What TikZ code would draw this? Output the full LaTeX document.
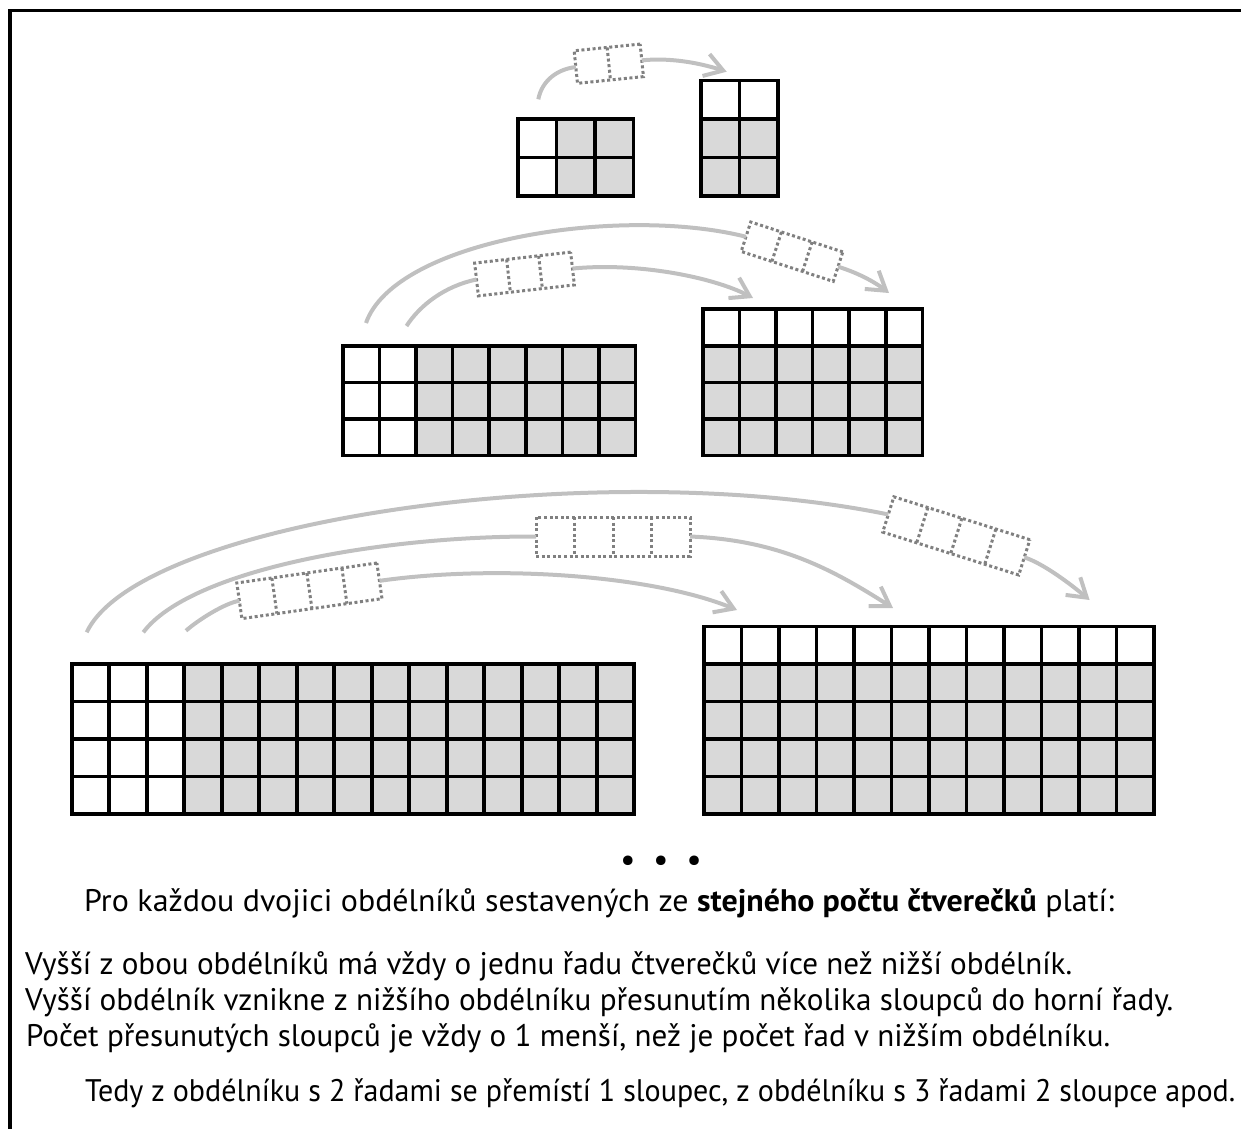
\documentclass[tikz,border=0pt]{standalone}
\usepackage{graphicx}
\usepackage{fontspec}
\setmainfont{PT Sans}
\usetikzlibrary{arrows.meta,calc}
\definecolor{cellgray}{HTML}{D9D9D9}
\definecolor{arrgray}{HTML}{C0C0C0}
\definecolor{boxgray}{HTML}{808080}
\newlength{\reftextw}
\AtBeginDocument{%
  \settowidth{\reftextw}{\fontsize{10pt}{12pt}\selectfont Vyšší obdélník vznikne z nižšího obdélníku přesunutím několika sloupců do horní řady.}%
  \pgfmathsetmacro{\fsz}{10*1148/\reftextw}%
}
% #1 x0, #2 y0, #3 cols, #4 rows, #5 cell, #6 white cols, #7 white rows
\newcommand{\cellgrid}[7]{%
  \fill[cellgray] (#1,#2) rectangle ++(#3*#5,#4*#5);
  \fill[white] (#1,#2) rectangle ++(#6*#5,#7*#5);
  \foreach \gi in {0,...,#3} \draw[gridline] (#1+\gi*#5,#2) -- ++(0,#4*#5);
  \foreach \gj in {0,...,#4} \draw[gridline] (#1,#2+\gj*#5) -- ++(#3*#5,0);
  \draw[gridline] (#1,#2) rectangle ++(#3*#5,#4*#5);
}
\newcommand{\boxdividers}[2]{% #1 node name, #2 number of cells
  \foreach \k in {1,...,\numexpr#2-1\relax}
    \draw[boxdiv] ($(#1.north west)!\k/#2!(#1.north east)$) -- ($(#1.south west)!\k/#2!(#1.south east)$);
}
\newcommand{\fitline}[2]{\resizebox{#1pt}{\height}{#2}}
\begin{document}
\begin{tikzpicture}[x=1pt,y=-1pt,
  gridline/.style={line width=3.6pt, black, line cap=rect},
  frameline/.style={line width=3.5pt, black},
  moveline/.style={arrgray, line width=4pt},
  movearrow/.style={moveline, -{Straight Barb[length=18pt,width=23pt]}},
  colbox/.style={draw=boxgray, line width=3pt, dash pattern=on 3pt off 2.6pt, inner sep=0pt, outer sep=0pt},
  boxdiv/.style={boxgray, line width=3pt, dash pattern=on 3pt off 2.6pt},
  txt/.style={font=\fontsize{\fsz pt}{\fsz pt}\selectfont, anchor=base west, inner sep=0pt},
]
\useasboundingbox (0,0) rectangle (1241,1128);

% frame
\draw[frameline] (10,1130) -- (10,10.5) -- (1243,10.5);

% grids
\cellgrid{518}{119}{3}{2}{38.5}{1}{2}
\cellgrid{701}{80.5}{2}{3}{38.5}{2}{1}
\cellgrid{342.7}{345.7}{8}{3}{36.6}{2}{3}
\cellgrid{702.7}{309.1}{6}{4}{36.6}{6}{1}
\cellgrid{71.7}{664}{15}{4}{37.5}{3}{4}
\cellgrid{704}{626.5}{12}{5}{37.5}{12}{1}

% free ends
\coordinate (s1) at (538.3,99.3);
\coordinate (t1) at (726.7,71.7);
\coordinate (s2a) at (406.5,326);
\coordinate (t2a) at (753,298);
\coordinate (s2b) at (366,323);
\coordinate (t2b) at (889,293);
\coordinate (s3a) at (186,630.7);
\coordinate (t3a) at (737,610);
\coordinate (s3b) at (143.3,632.3);
\coordinate (t3b) at (893,608);
\coordinate (s3c) at (86.7,632.3);
\coordinate (t3c) at (1089.6,600);

% moved columns (dotted boxes)
\node[colbox, minimum width=66.3pt, minimum height=32.7pt, rotate=5.8] (b1) at (608.8,63.7) {};
\node[colbox, minimum width=96.6pt, minimum height=33pt, rotate=6.5] (b2a) at (524.5,274) {};
\node[colbox, minimum width=96.8pt, minimum height=31pt, rotate=-18] (b2b) at (792,251.7) {};
\node[colbox, minimum width=141.5pt, minimum height=36pt, rotate=8.1] (b3a) at (309.4,590.8) {};
\node[colbox, minimum width=154pt, minimum height=39pt] (b3b) at (613,536.5) {};
\node[colbox, minimum width=142.6pt, minimum height=37pt, rotate=-17.5] (b3c) at (956.3,535.9) {};
\boxdividers{b1}{2}
\boxdividers{b2a}{3}
\boxdividers{b2b}{3}
\boxdividers{b3a}{4}
\boxdividers{b3b}{4}
\boxdividers{b3c}{4}

% arrows
\draw[moveline] (s1) .. controls (542,80) and (558,69) .. (b1.west);
\draw[movearrow] (b1.east) .. controls (675,57) and (706,65) .. (t1);

\draw[moveline] (s2a) .. controls (420,305) and (445,286) .. (b2a.west);
\draw[movearrow] (b2a.east) .. controls (640,262) and (715,278) .. (t2a);

\draw[moveline] (s2b) .. controls (395,240) and (620,205) .. (b2b.west);
\draw[movearrow] (b2b.east) .. controls (855,272) and (872,280) .. (t2b);

\draw[moveline] (s3a) .. controls (198,620) and (225,603) .. (b3a.west);
\draw[movearrow] (b3a.east) .. controls (498,564) and (654,575.6) .. (t3a);

\draw[moveline] (s3b) .. controls (190,570) and (380,536) .. (b3b.west);
\draw[movearrow] (b3b.east) .. controls (780,540) and (834,570.5) .. (t3b);

\draw[moveline] (s3c) .. controls (140,520) and (600,455) .. (b3c.west);
\draw[movearrow] (b3c.east) .. controls (1043.4,563.5) and (1070.4,584) .. (t3c);

% ellipsis
\node[font=\fontsize{\fsz pt}{\fsz pt}\selectfont\bfseries, anchor=base, inner sep=0pt] (dots) at (661,870) {•\hspace{19pt}•\hspace{19pt}•};

% text
\node[txt] (l1) at (84,911) {\fitline{1030}{Pro každou dvojici obdélníků sestavených ze \textbf{stejného počtu čtverečků} platí:}};
\node[txt] (l2) at (25,974.5) {\fitline{1047}{Vyšší z obou obdélníků má vždy o jednu řadu čtverečků více než nižší obdélník.}};
\node[txt] (l3) at (25,1010) {\fitline{1148}{Vyšší obdélník vznikne z nižšího obdélníku přesunutím několika sloupců do horní řady.}};
\node[txt] (l4) at (26,1046) {\fitline{1084}{Počet přesunutých sloupců je vždy o 1 menší, než je počet řad v nižším obdélníku.}};
\node[txt] (l5) at (85,1101.5) {\fitline{1150}{Tedy z obdélníku s 2 řadami se přemístí 1 sloupec, z obdélníku s 3 řadami 2 sloupce apod.}};
\end{tikzpicture}
\end{document}
